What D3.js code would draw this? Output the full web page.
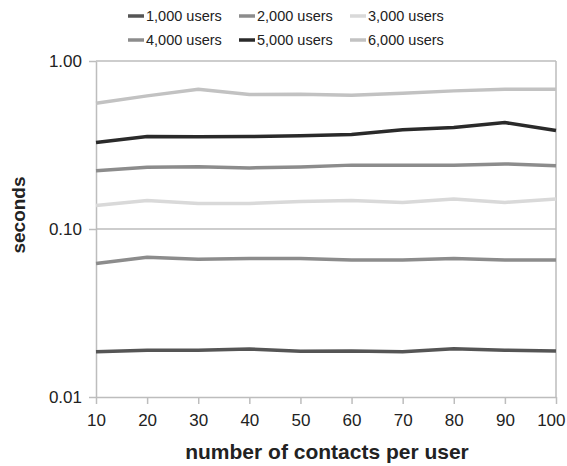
<!DOCTYPE html>
<html>
<head>
<meta charset="utf-8">
<script src="https://cdn.jsdelivr.net/npm/d3@7"></script>
<style>
  body { margin: 0; background: #fff; }
  text { font-family: "Liberation Sans", Arial, sans-serif; }
</style>
</head>
<body>
<div id="container"></div>
<script>
var width = 567;
var height = 466;

// data
var contacts = [10, 20, 30, 40, 50, 60, 70, 80, 90, 100];
var seriesNames = ["1,000 users", "2,000 users", "3,000 users", "4,000 users", "5,000 users", "6,000 users"];
var users1000 = [0.0186, 0.0190, 0.0190, 0.0193, 0.0187, 0.0188, 0.0186, 0.0194, 0.0190, 0.0188];
var users2000 = [0.0624, 0.0680, 0.0660, 0.0668, 0.0668, 0.0653, 0.0653, 0.0668, 0.0653, 0.0653];
var users3000 = [0.138, 0.148, 0.142, 0.142, 0.146, 0.148, 0.144, 0.151, 0.144, 0.151];
var users4000 = [0.222, 0.233, 0.235, 0.231, 0.234, 0.240, 0.240, 0.240, 0.244, 0.238];
var users5000 = [0.327, 0.355, 0.354, 0.355, 0.359, 0.365, 0.390, 0.402, 0.430, 0.386];
var users6000 = [0.561, 0.620, 0.679, 0.631, 0.634, 0.626, 0.643, 0.664, 0.679, 0.679];
var yTicks = [0.01, 0.1, 1];

var allSeries = [users1000, users2000, users3000, users4000, users5000, users6000];
var colors = ["#555555", "#8c8c8c", "#d9d9d9", "#8c8c8c", "#2a2a2a", "#c2c2c2"];

var margin = { left: 96, right: 11, top: 61, bottom: 69 };

var svg = d3
  .select("div#container")
  .append("svg")
  .attr("width", width)
  .attr("height", height);

var x = d3.scaleLinear().domain([10, 100]).range([margin.left, width - margin.right]);
var y = d3.scaleLog().domain([0.01, 1]).range([height - margin.bottom, margin.top]);

// gridlines
svg.append("g")
  .selectAll("line")
  .data([0.1, 1])
  .enter()
  .append("line")
  .attr("x1", margin.left)
  .attr("x2", width - margin.right)
  .attr("y1", d => y(d))
  .attr("y2", d => y(d))
  .attr("stroke", "#bdbdbd")
  .attr("stroke-width", 1.5);

// right border
svg.append("line")
  .attr("x1", x(100)).attr("x2", x(100))
  .attr("y1", y(1)).attr("y2", y(0.01))
  .attr("stroke", "#bdbdbd")
  .attr("stroke-width", 1.5);

// x axis
var xAxis = svg.append("g")
  .attr("transform", `translate(0,${y(0.01)})`)
  .call(d3.axisBottom(x).tickValues(contacts).tickSize(7).tickSizeOuter(0).tickPadding(10));
xAxis.select(".domain").attr("stroke", "#bdbdbd").attr("stroke-width", 1.5);
xAxis.selectAll(".tick line").attr("stroke", "#bdbdbd").attr("stroke-width", 1.5);
xAxis.selectAll("text").attr("font-size", 17).attr("fill", "#222");
// last label pulled in so it stays on the page
xAxis.selectAll(".tick text").filter(d => d === 100).attr("text-anchor", "end").attr("dx", 9);

// y axis
var yAxis = svg.append("g")
  .attr("transform", `translate(${margin.left},0)`)
  .call(d3.axisLeft(y).tickValues(yTicks).tickFormat(d3.format(".2f")).tickSize(7).tickSizeOuter(0).tickPadding(7));
yAxis.select(".domain").attr("stroke", "#bdbdbd").attr("stroke-width", 1.5);
yAxis.selectAll(".tick line").attr("stroke", "#bdbdbd").attr("stroke-width", 1.5);
yAxis.selectAll("text").attr("font-size", 17).attr("fill", "#222");

// lines
var line = d3.line()
  .x((d, i) => x(contacts[i]))
  .y(d => y(d));

svg.append("g")
  .selectAll("path")
  .data(allSeries)
  .enter()
  .append("path")
  .attr("d", line)
  .attr("fill", "none")
  .attr("stroke", (d, i) => colors[i])
  .attr("stroke-width", 3.5);

// axis titles
svg.append("text")
  .attr("x", 327)
  .attr("y", 459)
  .attr("text-anchor", "middle")
  .attr("font-size", 21)
  .attr("font-weight", "bold")
  .attr("fill", "#222")
  .text("number of contacts per user");

svg.append("text")
  .attr("transform", `translate(25,215) rotate(-90)`)
  .attr("text-anchor", "middle")
  .attr("font-size", 19)
  .attr("font-weight", "bold")
  .attr("fill", "#222")
  .text("seconds");

// legend
var legend = svg.append("g")
  .selectAll("g")
  .data(seriesNames)
  .enter()
  .append("g")
  .attr("transform", (d, i) => `translate(${128 + (i % 3) * 111},${16 + Math.floor(i / 3) * 24})`);

legend.append("line")
  .attr("x1", 0).attr("x2", 16)
  .attr("y1", 0).attr("y2", 0)
  .attr("stroke", (d, i) => colors[i])
  .attr("stroke-width", 3.5);

legend.append("text")
  .attr("x", 18)
  .attr("y", 5)
  .attr("font-size", 14.5)
  .attr("fill", "#222")
  .text(d => d);
</script>
</body>
</html>
